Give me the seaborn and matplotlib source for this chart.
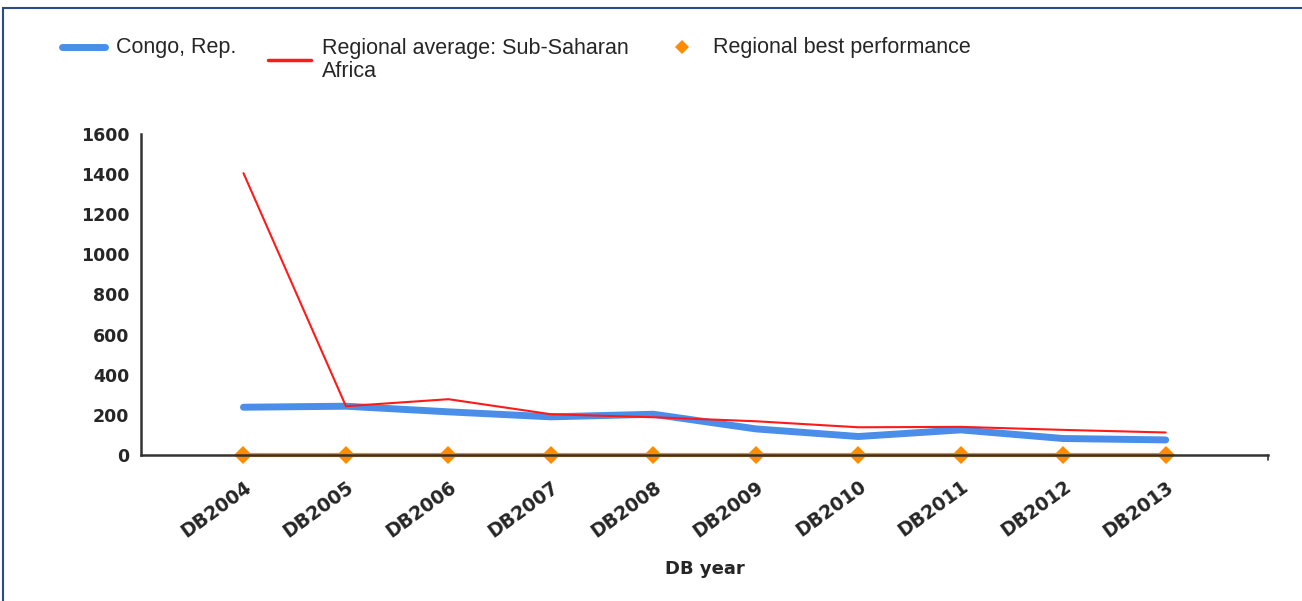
import numpy as np
import pandas as pd
import seaborn as sns
import matplotlib.pyplot as plt
from matplotlib.lines import Line2D
from matplotlib.patches import Rectangle

years = ["DB2004", "DB2005", "DB2006", "DB2007", "DB2008",
         "DB2009", "DB2010", "DB2011", "DB2012", "DB2013"]
congo = [238, 243, 215, 190, 203, 130, 92, 125, 82, 75]
regional_avg = [1405, 243, 278, 203, 188, 168, 138, 140, 125, 112]
regional_best = [0, 0, 0, 0, 0, 0, 0, 0, 0, 0]

sns.set_style("white")
plt.rcParams['font.family'] = ['DejaVu Sans']

df = pd.DataFrame({"year": years, "congo": congo,
                   "avg": regional_avg, "best": regional_best})
df["pos"] = np.arange(len(years))

fig = plt.figure(figsize=(13.02, 6.01), dpi=100)
ax = fig.add_axes([0.1083, 0.243, 0.8657, 0.534])

sns.lineplot(data=df, x="pos", y="congo", ax=ax, color="#4a8eea", lw=5,
             zorder=3, solid_capstyle="round")
sns.lineplot(data=df, x="pos", y="avg", ax=ax, color="#ff1a1a", lw=1.5,
             zorder=4)
sns.lineplot(data=df, x="pos", y="best", ax=ax, color="#ff8c00", lw=3,
             marker="D", markersize=9, markeredgewidth=0, zorder=1)
ax.lines[-1].set_clip_on(False)

ax.set_xlim(-1, 10)
ax.set_ylim(0, 1600)
ax.set_yticks(range(0, 1601, 200))
ax.set_xticks(df["pos"])
ax.set_xticklabels(years, rotation=36, ha="right", rotation_mode="anchor",
                   fontweight="bold", fontsize=13.5)
for t in ax.get_yticklabels():
    t.set_fontweight("bold")
    t.set_fontsize(12.5)
ax.tick_params(axis="y", direction="out", length=5, width=1.2, color="#333333")
ax.tick_params(axis="x", direction="inout", length=8, width=1.2, color="#222222", pad=12)
ax.set_xlabel("DB year", fontweight="bold", fontsize=13, labelpad=14)
ax.set_ylabel("")
for side in ["top", "right"]:
    ax.spines[side].set_visible(False)
for side in ["left", "bottom"]:
    ax.spines[side].set_color("#333333")
    ax.spines[side].set_linewidth(1.8)
    ax.spines[side].set_zorder(2)

# little end tick at right of x axis
ax.plot([10, 10], [0, -25], color="#333333", lw=1.2, clip_on=False)

# legend drawn by hand so single-line labels align with the first line
def px(x, y):
    return x / 1302, 1 - y / 601

leg_font = {"family": "Liberation Sans", "size": 15.5}
x0, y0 = px(62, 47)
x1, _ = px(105, 47)
fig.add_artist(Line2D([x0, x1], [y0, y0], color="#4a8eea", lw=5, transform=fig.transFigure))
fig.text(*px(116, 48), "Congo, Rep.", va="center", ha="left", fontdict=leg_font)
x0, y0 = px(268, 60)
x1, _ = px(311, 60)
fig.add_artist(Line2D([x0, x1], [y0, y0], color="#ff1a1a", lw=2.5, transform=fig.transFigure))
fig.text(*px(322, 38), "Regional average: Sub-Saharan\nAfrica", va="top", ha="left",
         fontdict=leg_font, linespacing=1.15)
fig.add_artist(Line2D([px(682, 47)[0]], [px(682, 47)[1]], color="#ff8c00", lw=0,
                      marker="D", markersize=7, markeredgewidth=0, transform=fig.transFigure))
fig.text(*px(713, 48), "Regional best performance", va="center", ha="left", fontdict=leg_font)

fig.patches.append(Rectangle((0.002, -0.01), 1.01, 0.997, transform=fig.transFigure,
                             fill=False, edgecolor="#2a4a8a", lw=1.5))

fig.savefig("out.png", dpi=100)
